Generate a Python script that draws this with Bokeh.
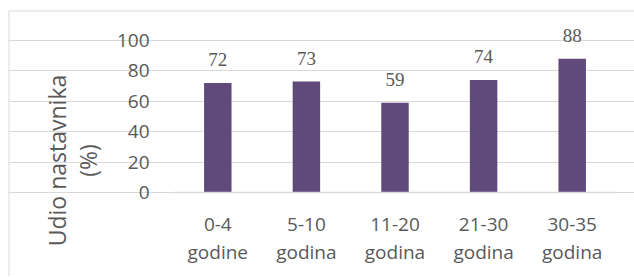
import math
from bokeh.plotting import figure
from bokeh.models import ColumnDataSource, Range1d, LabelSet, Label, FixedTicker, Span
from bokeh.embed import file_html
from bokeh.resources import INLINE

categories = ["0-4\ngodine", "5-10\ngodina", "11-20\ngodina", "21-30\ngodina", "30-35\ngodina"]
values = [72, 73, 59, 74, 88]
y_ticks = [0, 20, 40, 60, 80, 100]
y_title = "Udio nastavnika\n(%)"

FONT = "Open Sans"
TXT = "#595959"
GRID = "#D9D9D9"
BAR = "#604A7B"

# layout (pixels on the canvas)
W, H = 634, 276
FRAME_LEFT, FRAME_TOP = 8, 10             # chart box border left / top
PLOT_LEFT, PLOT_RIGHT = 173, 616          # data area (gridlines) left / right
PLOT_TOP, PLOT_BOTTOM = 40, 192           # y=100 / y=0 pixel rows
TITLE_X, TITLE_Y = 72, 160                # anchor of the y-axis title block

n = len(categories)
xs = list(range(n))
x_lo, x_hi = -0.5, n - 0.5
y_lo, y_hi = y_ticks[0], y_ticks[-1]
px_x = (PLOT_RIGHT - PLOT_LEFT) / (x_hi - x_lo)
px_y = (PLOT_BOTTOM - PLOT_TOP) / (y_hi - y_lo)
x_start = x_lo - (PLOT_LEFT - FRAME_LEFT) / px_x
x_end = x_hi + (W - PLOT_RIGHT) / px_x
y_end = y_hi + (PLOT_TOP - FRAME_TOP) / px_y
y_start = y_lo - (H - PLOT_BOTTOM) / px_y

src = ColumnDataSource(dict(x=xs, val=values, lab=[str(v) for v in values]))

p = figure(
    x_range=Range1d(x_start, x_end),
    y_range=Range1d(y_start, y_end),
    width=W, height=H,
    output_backend="svg", toolbar_location=None,
    min_border_left=FRAME_LEFT, min_border_right=0,
    min_border_top=FRAME_TOP, min_border_bottom=0,
)
p.outline_line_color = None
p.background_fill_color = "white"
p.border_fill_color = "white"

p.vbar(x="x", top="val", width=0.31, source=src, fill_color=BAR, line_color=None)

labels = LabelSet(x="x", y="val", text="lab", source=src, y_offset=17,
                  text_align="center", text_baseline="alphabetic",
                  text_font=FONT, text_font_size="19px", text_color=TXT)
p.add_layout(labels)

# chart box border (top and left)
p.add_layout(Span(location=x_start, dimension="height", line_color=GRID, line_width=2))
p.add_layout(Span(location=y_end, dimension="width", line_color=GRID, line_width=2))

p.yaxis.ticker = FixedTicker(ticks=y_ticks)
p.ygrid.ticker = FixedTicker(ticks=y_ticks)
p.ygrid.bounds = (x_lo, x_hi)
p.xgrid.grid_line_color = None
p.ygrid.grid_line_color = GRID
p.ygrid.grid_line_width = 1

p.xaxis.ticker = FixedTicker(ticks=xs)
p.xaxis.major_label_overrides = {x: c for x, c in zip(xs, categories)}
p.xaxis.fixed_location = y_lo
p.xaxis.bounds = (x_lo, x_hi)
p.yaxis.fixed_location = x_lo
p.yaxis.bounds = (y_lo, y_hi)

for ax in (p.xaxis, p.yaxis):
    ax.major_tick_line_color = None
    ax.minor_tick_line_color = None
    ax.major_tick_out = 0
    ax.major_tick_in = 0
    ax.major_label_text_font = FONT
    ax.major_label_text_font_size = "19px"
    ax.major_label_text_color = TXT

p.yaxis.axis_line_color = None
p.yaxis.major_label_standoff = 24

p.xaxis.axis_line_color = GRID
p.xaxis.axis_line_width = 1.5
p.xaxis.major_label_standoff = 18
p.xaxis.major_label_text_line_height = 1.1

# y-axis title (two lines, centred, reading bottom to top)
title = Label(
    x=x_lo - (PLOT_LEFT - TITLE_X) / px_x,
    y=y_lo + (PLOT_BOTTOM - TITLE_Y) / px_y,
    text=y_title, angle=math.pi / 2,
    text_align="center", text_baseline="middle",
    text_font=FONT, text_font_size="23px", text_color=TXT,
    text_line_height=0.95,
)
p.add_layout(title)

open("out.html", "w").write(file_html(p, INLINE))
